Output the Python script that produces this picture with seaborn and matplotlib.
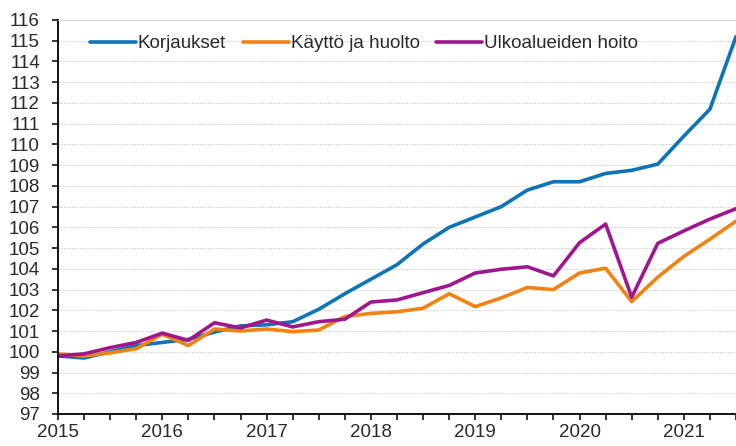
import numpy as np
import pandas as pd
import matplotlib
matplotlib.use("Agg")
import matplotlib.pyplot as plt
from matplotlib.ticker import MultipleLocator
import seaborn as sns

# quarterly index values, 2015 Q1 .. 2021 Q3
quarters = [2015 + i * 0.25 for i in range(27)]

korjaukset = [99.8, 99.7, 100.0, 100.3, 100.45, 100.6, 100.95, 101.25,
              101.3, 101.45, 102.05, 102.8, 103.5, 104.2, 105.2, 106.0,
              106.5, 107.0, 107.8, 108.2, 108.2, 108.6, 108.75, 109.05,
              110.4, 111.7, 115.2]
kaytto = [99.9, 99.8, 99.95, 100.15, 100.85, 100.3, 101.1, 101.0,
          101.1, 100.97, 101.05, 101.7, 101.85, 101.93, 102.1, 102.8,
          102.18, 102.6, 103.1, 103.0, 103.8, 104.03, 102.42, 103.6,
          104.6, 105.43, 106.3]
ulkoalue = [99.8, 99.9, 100.2, 100.45, 100.9, 100.55, 101.4, 101.15,
            101.53, 101.2, 101.45, 101.57, 102.4, 102.5, 102.85, 103.2,
            103.8, 103.98, 104.1, 103.66, 105.26, 106.16, 102.63, 105.23,
            105.83, 106.4, 106.9]

series = ["Korjaukset", "Käyttö ja huolto", "Ulkoalueiden hoito"]
colors = ["#0d74b6", "#f08312", "#a0168e"]

df = pd.DataFrame({
    "aika": quarters * 3,
    "arvo": korjaukset + kaytto + ulkoalue,
    "sarja": [series[0]] * 27 + [series[1]] * 27 + [series[2]] * 27,
})

sns.set_style("white")
plt.rcParams["font.family"] = ["Liberation Sans", "DejaVu Sans"]

fig = plt.figure(figsize=(7.36, 4.46), dpi=100)
ax = fig.add_axes([58 / 736, 32 / 446, 1 - 58 / 736, 394 / 446])

sns.lineplot(data=df, x="aika", y="arvo", hue="sarja", hue_order=series,
             palette=colors, linewidth=2.6, ax=ax)

ax.set_xlim(2015, 2021.5)
ax.set_ylim(97, 116)
ax.yaxis.set_major_locator(MultipleLocator(1))
ax.xaxis.set_minor_locator(MultipleLocator(0.25))
ax.set_xticks(range(2015, 2022))
ax.set_xticklabels([str(y) for y in range(2015, 2022)])

ax.grid(axis="y", color="#c4c4c4", linestyle=(0, (1.2, 1.6)), linewidth=0.7)
ax.set_axisbelow(True)

ax.spines["right"].set_visible(False)
ax.spines["top"].set_color("#d4d4d4")
ax.spines["top"].set_linewidth(0.8)
for s in ["left", "bottom"]:
    ax.spines[s].set_color("black")
    ax.spines[s].set_linewidth(1.3)

ax.tick_params(axis="y", which="major", direction="out", length=4, width=1.1,
               color="black", labelsize=13.5, labelcolor="#2a2a2a", pad=9, left=True)
ax.tick_params(axis="x", which="both", direction="out", length=4.5, width=1.1,
               color="black", labelsize=13.5, labelcolor="#2a2a2a", pad=3, bottom=True)
ax.set_xlabel("")
ax.set_ylabel("")

ax.legend(loc="upper left", bbox_to_anchor=(0.022, 1.004), ncol=3, frameon=False,
          fontsize=13.5, handlelength=2.45, handletextpad=0.1, columnspacing=0.9,
          labelcolor="#2a2a2a")

fig.savefig("out.png", dpi=100)
